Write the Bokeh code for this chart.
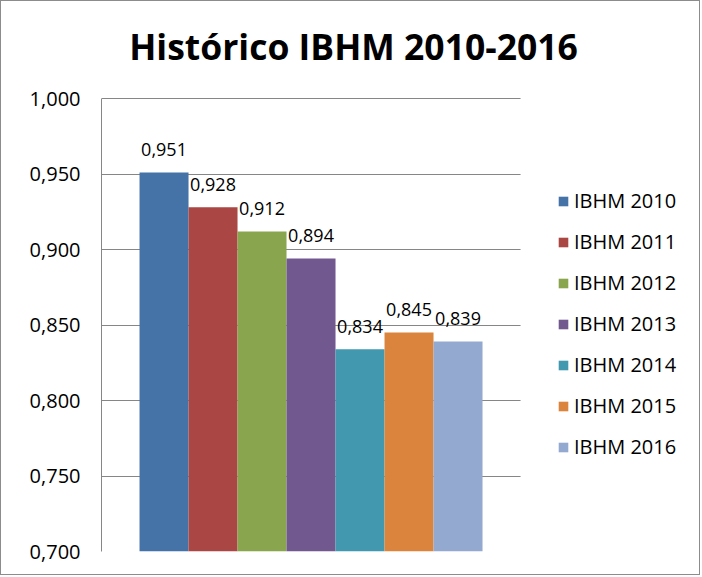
from bokeh.plotting import figure
from bokeh.models import Range1d, FixedTicker, Legend, LegendItem, Label, ColumnDataSource, BoxAnnotation
from bokeh.core.properties import value
from bokeh.embed import file_html
from bokeh.resources import INLINE

# ---- data ----
series = ["IBHM 2010", "IBHM 2011", "IBHM 2012", "IBHM 2013", "IBHM 2014", "IBHM 2015", "IBHM 2016"]
values = [0.951, 0.928, 0.912, 0.894, 0.834, 0.845, 0.839]
labels = ["0,951", "0,928", "0,912", "0,894", "0,834", "0,845", "0,839"]
colors = ["#4572A7", "#AA4643", "#89A54E", "#71588F", "#4198AF", "#DB843D", "#93A9CF"]
y_ticks = [0.70, 0.75, 0.80, 0.85, 0.90, 0.95, 1.00]
y_tick_labels = ["0,700", "0,750", "0,800", "0,850", "0,900", "0,950", "1,000"]
title_text = "Histórico IBHM 2010-2016"

FONT = "Open Sans"

# plot-area extent (category slot padded on both sides) plus room for the legend and the title
X0, X1 = -1.276, 7.276
X_FRAME_END = X0 + 600 / 49.0
Y0, Y1 = 0.70, 1.00
Y_FRAME_TOP = Y1 + 97 / 1510.0

src = ColumnDataSource(dict(
    x=list(range(len(series))),
    top=values,
    name=series,
    color=colors,
    label=labels,
))

p = figure(
    width=700, height=575,
    output_backend="svg", toolbar_location=None,
    x_range=Range1d(X0, X_FRAME_END), y_range=Range1d(Y0, Y_FRAME_TOP),
    min_border_left=100, min_border_right=0, min_border_top=0, min_border_bottom=25,
    styles={"border": "1px solid #8c8c8c"},
)
p.title = None
p.outline_line_color = None
p.background_fill_color = "white"
p.border_fill_color = "white"

r = p.vbar(x="x", top="top", bottom=Y0, width=1.0, fill_color="color", line_color=None, source=src)

p.text(x="x", y="top", text="label", source=src, text_align="center", text_baseline="alphabetic",
       y_offset=-23, text_font=value(FONT), text_font_size="18px", text_color="#000000")

# axes
p.xaxis.visible = False
p.xgrid.visible = False
p.yaxis.ticker = FixedTicker(ticks=y_ticks)
p.yaxis.bounds = (Y0, Y1)
p.yaxis.major_label_overrides = {t: l for t, l in zip(y_ticks, y_tick_labels)}
p.yaxis.major_tick_in = 0
p.yaxis.major_tick_out = 0
p.yaxis.minor_tick_in = 0
p.yaxis.minor_tick_out = 0
p.yaxis.axis_line_color = "#868686"
p.yaxis.major_label_standoff = 21
p.yaxis.major_label_text_font = FONT
p.yaxis.major_label_text_font_size = "20px"
p.yaxis.major_label_text_color = "#000000"
p.ygrid.ticker = FixedTicker(ticks=y_ticks)
p.ygrid.grid_line_color = "#868686"
p.ygrid.grid_line_width = 1

# white area to the right of the plot area (legend zone): gridlines stop at the plot area's edge
p.add_layout(BoxAnnotation(left=X1, fill_color="white", fill_alpha=1.0, line_color=None, level="underlay"))

# title (screen px from the frame's bottom-left)
p.add_layout(Label(x=252, y=506, x_units="screen", y_units="screen", text=title_text,
                   text_align="center", text_baseline="alphabetic", text_font=FONT,
                   text_font_size="35.5px", text_font_style="bold", text_color="#000000"))

# legend (screen px relative to the frame's bottom-left, right of the bars' area)
items = [LegendItem(label=s, renderers=[r], index=i) for i, s in enumerate(series)]
legend = Legend(items=items, location=(456, 91), margin=0, padding=0,
                border_line_color=None, background_fill_alpha=0,
                glyph_width=12, glyph_height=12, label_height=27, spacing=14, label_standoff=5,
                label_text_font=FONT, label_text_font_size="20px", label_text_color="#000000")
p.add_layout(legend, "center")

open("out.html", "w").write(file_html(p, INLINE))
